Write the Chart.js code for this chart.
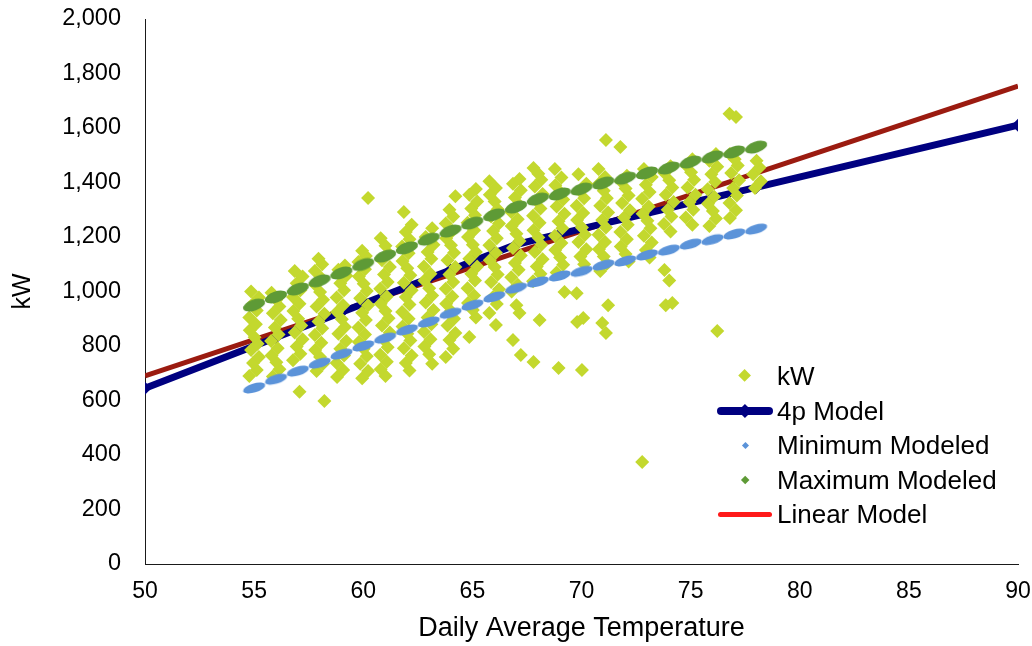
<!DOCTYPE html>
<html><head><meta charset="utf-8">
<script src="https://cdn.jsdelivr.net/npm/chart.js@4/dist/chart.umd.min.js"></script>
<style>
html,body{margin:0;padding:0;background:#fff;}
#wrap{position:relative;width:1032px;height:646px;overflow:hidden;}
#legend{position:absolute;left:0;top:0;width:1032px;height:646px;pointer-events:none;font-family:"Liberation Sans",Arial,sans-serif;font-size:26px;color:#000;}
.item{position:absolute;left:777px;line-height:30px;height:30px;white-space:nowrap;}
.sym{position:absolute;}
</style></head>
<body>
<div id="wrap"><canvas id="c" width="1032" height="646"></canvas><div id="legend"></div></div>
<script>
// ---- data ----
const xTicks = [50, 55, 60, 65, 70, 75, 80, 85, 90];
const yTicks = [0, 200, 400, 600, 800, 1000, 1200, 1400, 1600, 1800, 2000];

const kwTemps = [55,56,57,58,59,60,61,62,63,64,65,66,67,68,69,70,71,72,73,74,75,76,77,78];
const kwValues = [
  [690,712,738,760,785,808,832,858,880,905,930,955,978,1000],
  [688,715,740,765,792,818,842,868,895,920,945,970,995],
  [632,748,772,798,825,850,875,900,928,955,980,1005,1030,1055,1075],
  [598,708,735,760,785,812,840,865,890,918,945,970,998,1025,1050,1075,1100,1120],
  [686,712,738,765,790,818,845,870,898,925,950,978,1005,1030,1058,1080,1095],
  [682,708,735,762,790,815,842,868,895,922,950,975,1002,1028,1055,1082,1108,1130,1150,1343],
  [690,715,742,768,795,822,850,875,902,928,955,982,1010,1035,1062,1090,1115,1140,1168,1195],
  [710,738,765,792,820,845,872,900,925,952,980,1005,1032,1060,1085,1112,1140,1165,1192,1218,1245,1292],
  [735,770,798,825,852,880,905,932,960,985,1012,1040,1065,1092,1120,1145,1172,1200,1232],
  [760,790,822,848,875,900,928,955,982,1010,1035,1062,1090,1115,1142,1170,1195,1222,1250,1275,1300,1350],
  [833,905,932,958,985,1012,1040,1065,1092,1120,1145,1172,1200,1225,1252,1280,1305,1330,1355,1376],
  [877,921,954,980,1008,1035,1062,1090,1115,1142,1170,1195,1222,1250,1275,1302,1330,1355,1380,1405],
  [767,822,921,950,1000,1025,1052,1080,1105,1132,1160,1185,1212,1240,1265,1292,1320,1345,1372,1395,1413],
  [741,895,1038,1065,1092,1118,1145,1172,1198,1225,1252,1278,1305,1332,1358,1385,1410,1432,1453],
  [719,998,1070,1098,1125,1152,1178,1205,1232,1258,1285,1312,1338,1365,1390,1418,1450],
  [712,888,903,994,1100,1128,1155,1182,1208,1235,1262,1288,1315,1342,1368,1395,1430],
  [848,884,950,1075,1102,1128,1155,1182,1208,1235,1262,1290,1315,1342,1370,1395,1420,1450,1556],
  [1110,1138,1165,1192,1218,1245,1272,1298,1325,1352,1378,1405,1425,1530],
  [374,1125,1152,1180,1205,1232,1260,1285,1312,1340,1365,1392,1420,1450],
  [950,958,1040,1079,1220,1248,1275,1300,1328,1355,1382,1408,1435,1460],
  [1245,1272,1300,1328,1355,1382,1410,1438,1462,1485],
  [855,1240,1268,1295,1322,1348,1375,1402,1430,1458,1480,1505],
  [1270,1298,1325,1352,1380,1408,1435,1462,1485,1505,1640,1652],
  [1380,1405,1430,1455,1480]
];
// small horizontal spread of daily temperatures inside each column
const kwJitter = [-0.22, 0.12, -0.05, 0.22, -0.14, 0.16, 0.02, -0.20, 0.08];

const modelTemps = [50,55,56,57,58,59,60,61,62,63,64,65,66,67,68,69,70,71,72,73,74,75,76,77,78,90];
const model4p    = [645,800,831,862,893,924,955,986,1017,1048,1079,1110,1141,1172,1192,1211,1230,1249,1268,1287,1306,1325,1344,1363,1382,1610];

const rangeTemps  = [55,56,57,58,59,60,61,62,63,64,65,66,67,68,69,70,71,72,73,74,75,76,77,78];
const minModeled  = [646,678,708,737,770,800,829,859,888,920,950,980,1012,1035,1057,1074,1097,1112,1134,1152,1174,1190,1211,1229];
const maxModeled  = [950,980,1009,1039,1068,1099,1130,1160,1192,1222,1251,1281,1310,1339,1358,1376,1398,1416,1435,1453,1475,1494,1512,1530];

const linearTemps = [50, 90];
const linearModel = [690, 1754];

const seriesNames = ['kW', '4p Model', 'Minimum Modeled', 'Maximum Modeled', 'Linear Model'];

// ---- build ----
const kwPoints = [];
kwTemps.forEach((t, ci) => {
  kwValues[ci].forEach((v, i) => {
    kwPoints.push({x: t + kwJitter[(i + ci * 4) % kwJitter.length], y: v});
  });
});
const pts = (xs, ys) => xs.map((x, i) => ({x, y: ys[i]}));

function blob(color, len, thick, angleDeg) {
  const a = angleDeg * Math.PI / 180;
  const w = Math.ceil(Math.abs(len * Math.cos(a)) + Math.abs(thick * Math.sin(a))) + 2;
  const h = Math.ceil(Math.abs(len * Math.sin(a)) + Math.abs(thick * Math.cos(a))) + 2;
  const cv = document.createElement('canvas');
  cv.width = w; cv.height = h;
  const g = cv.getContext('2d');
  g.translate(w / 2, h / 2);
  g.rotate(a);
  g.fillStyle = color;
  g.beginPath();
  g.ellipse(0, 0, len / 2, thick / 2, 0, 0, Math.PI * 2);
  g.fill();
  return cv;
}
const minBlob = blob('#5B93D9', 23, 9, -17);
const maxBlob = blob('#5E9A36', 23, 11, -19);

const FONT = "'Liberation Sans', Arial, sans-serif";

new Chart(document.getElementById('c'), {
  type: 'scatter',
  data: {
    datasets: [
      {label: seriesNames[0], data: kwPoints, order: 1, pointStyle: 'rectRot', pointRadius: 7,
       backgroundColor: '#C3D82E', borderWidth: 0, showLine: false},
      {label: seriesNames[1], data: pts(modelTemps, model4p), order: 2, showLine: true,
       borderColor: '#000080', borderWidth: 7, borderCapStyle: 'round', borderJoinStyle: 'round',
       pointStyle: 'rectRot', pointRadius: 6.5, pointBackgroundColor: '#000080', pointBorderWidth: 0},
      {label: seriesNames[2], data: pts(rangeTemps, minModeled), order: 0, pointStyle: minBlob,
       showLine: false},
      {label: seriesNames[3], data: pts(rangeTemps, maxModeled), order: 0, pointStyle: maxBlob,
       showLine: false},
      {label: seriesNames[4], data: pts(linearTemps, linearModel), order: 3, showLine: true,
       borderColor: '#9B1B10', borderWidth: 5, pointRadius: 0, borderCapStyle: 'butt'}
    ]
  },
  options: {
    responsive: false,
    animation: false,
    devicePixelRatio: 1,
    layout: {padding: {top: 19, right: 14, left: 0, bottom: 0}},
    plugins: {legend: {display: false}, tooltip: {enabled: false}},
    scales: {
      x: {
        type: 'linear', min: xTicks[0], max: xTicks[xTicks.length - 1],
        afterBuildTicks: s => { s.ticks = xTicks.map(v => ({value: v})); },
        afterFit: s => { s.height = 82; },
        ticks: {color: '#000', font: {family: FONT, size: 23}, padding: 0, maxRotation: 0},
        grid: {display: true, drawOnChartArea: false, drawTicks: true, tickLength: 14,
               tickColor: 'rgba(0,0,0,0)', color: 'rgba(0,0,0,0)'},
        border: {display: true, color: '#1a1a1a', width: 1},
        title: {display: true, text: 'Daily Average Temperature', color: '#000',
                font: {family: FONT, size: 27}, padding: {top: 0, bottom: 1}}
      },
      y: {
        type: 'linear', min: yTicks[0], max: yTicks[yTicks.length - 1],
        afterBuildTicks: s => { s.ticks = yTicks.map(v => ({value: v})); },
        afterFit: s => { s.width = 145; },
        ticks: {color: '#000', font: {family: FONT, size: 23.5}, padding: 0,
                callback: v => Number(v).toLocaleString('en-US')},
        grid: {display: true, drawOnChartArea: false, drawTicks: true, tickLength: 24,
               tickColor: 'rgba(0,0,0,0)', color: 'rgba(0,0,0,0)'},
        border: {display: true, color: '#1a1a1a', width: 1},
        title: {display: true, text: 'kW', color: '#000',
                font: {family: FONT, size: 25}, padding: {top: 8, bottom: 0}}
      }
    }
  }
});

// ---- legend (inside plot area, lower right) ----
const lg = document.getElementById('legend');
const rowY = [376, 411, 445, 480, 514];
const symX = 745;
function diamond(cx, cy, d, color) {
  const s = d / Math.SQRT2;
  const el = document.createElement('div');
  el.className = 'sym';
  el.style.cssText = `left:${cx - s / 2}px;top:${cy - s / 2}px;width:${s}px;height:${s}px;background:${color};transform:rotate(45deg);`;
  lg.appendChild(el);
}
function hline(x1, x2, cy, th, color) {
  const el = document.createElement('div');
  el.className = 'sym';
  el.style.cssText = `left:${x1}px;top:${cy - th / 2}px;width:${x2 - x1}px;height:${th}px;background:${color};border-radius:${th / 2}px;`;
  lg.appendChild(el);
}
diamond(symX, rowY[0], 13, '#C3D82E');
hline(717, 773, rowY[1], 8, '#000080'); diamond(symX, rowY[1], 14, '#000080');
diamond(symX, rowY[2], 7, '#5B93D9');
diamond(symX, rowY[3], 9, '#5E9A36');
hline(718, 772, rowY[4], 5, '#FF1A1A');
seriesNames.forEach((n, i) => {
  const el = document.createElement('div');
  el.className = 'item';
  el.style.top = (rowY[i] - 15) + 'px';
  el.textContent = n;
  lg.appendChild(el);
});
</script>
</body></html>
